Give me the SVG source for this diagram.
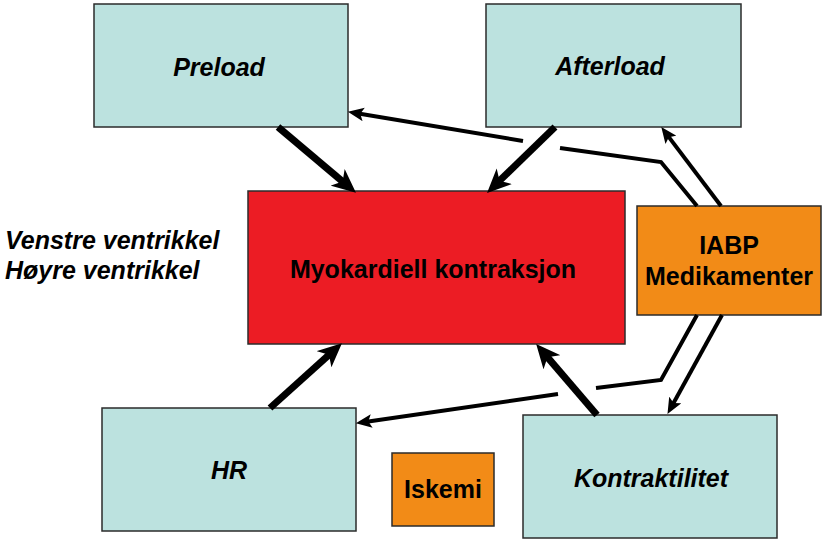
<svg xmlns="http://www.w3.org/2000/svg" width="827" height="543" viewBox="0 0 827 543">
<defs>
<style>
.box{stroke:#2b2b2b;stroke-width:1.5}
.teal{fill:#BCE2DF}
.red{fill:#EC1C24}
.orange{fill:#F28B17}
.t{font-family:"Liberation Sans",Arial,sans-serif;font-weight:bold;font-size:25px;fill:#000;text-anchor:middle}
.i{font-style:italic}
.thick{stroke:#000;stroke-width:7;fill:none;marker-end:url(#big)}
.thin{stroke:#000;stroke-width:4;fill:none}
.thin.a{marker-end:url(#small)}
</style>
<marker id="big" markerUnits="userSpaceOnUse" markerWidth="24" markerHeight="22" viewBox="0 0 22 20" refX="8" refY="10" orient="auto">
<path d="M0,0 L22,10 L0,20 L6,10 z" fill="#000"/>
</marker>
<marker id="small" markerUnits="userSpaceOnUse" markerWidth="16" markerHeight="14" viewBox="0 0 14 12" refX="6" refY="6" orient="auto">
<path d="M0,0 L14,6 L0,12 L3,6 z" fill="#000"/>
</marker>
</defs>
<rect width="827" height="543" fill="#fff"/>
<g id="preload"><rect class="box teal" x="94" y="4" width="254" height="123"/><text class="t i" x="219" y="76">Preload</text></g>
<g id="afterload"><rect class="box teal" x="486" y="4" width="255" height="123"/><text class="t i" x="610" y="75">Afterload</text></g>
<g id="myokard"><rect class="box red" x="248" y="191" width="377" height="153"/><text class="t" x="433" y="278">Myokardiell kontraksjon</text></g>
<g id="iabp"><rect class="box orange" x="637" y="206" width="184" height="109"/><text class="t" x="729" y="254">IABP</text><text class="t" x="729" y="285">Medikamenter</text></g>
<g id="hr"><rect class="box teal" x="102" y="408" width="254" height="123"/><text class="t i" x="229" y="479">HR</text></g>
<g id="iskemi"><rect class="box orange" x="392" y="453" width="102" height="73"/><text class="t" x="443" y="498">Iskemi</text></g>
<g id="kontraktilitet"><rect class="box teal" x="523" y="415" width="254" height="123"/><text class="t i" x="651" y="487">Kontraktilitet</text></g>
<g id="ventrikkel"><text class="t i" x="5" y="249" style="text-anchor:start">Venstre ventrikkel</text><text class="t i" x="5" y="279" style="text-anchor:start">Høyre ventrikkel</text></g>
<g id="connectors">
<line class="thick" x1="278" y1="127" x2="344.3" y2="183"/>
<line class="thick" x1="555" y1="127" x2="498" y2="182.3"/>
<line class="thick" x1="270" y1="408" x2="330.6" y2="353.4"/>
<line class="thick" x1="597" y1="415" x2="546.1" y2="355.6"/>
<line class="thin a" x1="523" y1="141" x2="356.9" y2="113.3"/>
<polyline class="thin" points="697,206 661,162 560,148"/>
<line class="thin a" x1="721" y1="206" x2="666.8" y2="134.4"/>
<polyline class="thin" points="697,315 661,380 596,388"/>
<line class="thin a" x1="558" y1="394" x2="364.9" y2="421.9"/>
<line class="thin a" x1="722" y1="315" x2="671.9" y2="406"/>
</g>
</svg>
